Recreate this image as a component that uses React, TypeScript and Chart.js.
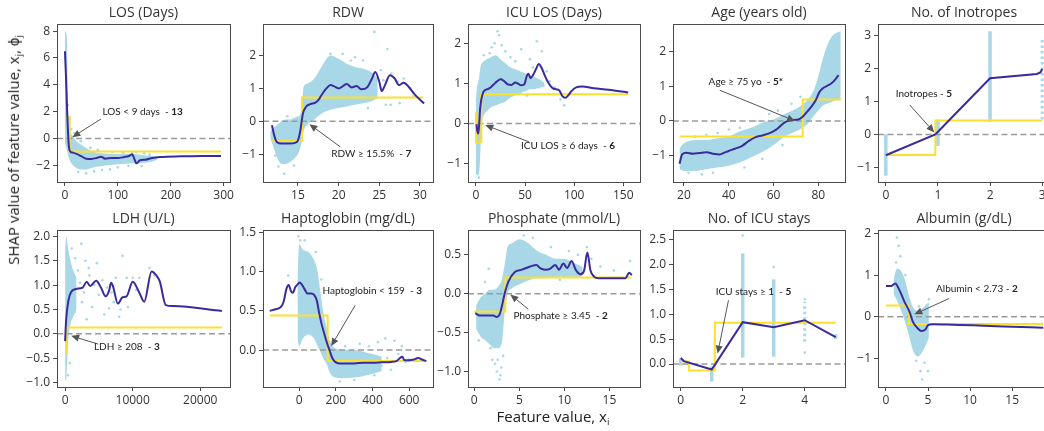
import React, { useEffect, useRef } from 'react';
import { Chart, registerables } from 'chart.js';

Chart.register(...registerables);

type Pt = [number, number];
type Col = [number, number, number];

// ---------------- LOS (Days) ----------------
const losCurve: Pt[] = [[0, 6.5], [2, 4.6], [4, 2.2], [6, 0.3], [8, -0.75], [11, -1.0], [15, -1.05], [22, -1.15], [30, -1.3], [40, -1.5], [50, -1.52], [60, -1.45], [68, -1.35], [76, -1.5], [88, -1.45], [100, -1.45], [112, -1.38], [120, -1.32], [127, -1.18], [131, -1.5], [135, -1.85], [142, -1.62], [152, -1.58], [165, -1.45], [180, -1.38], [220, -1.33], [260, -1.3], [295, -1.3]];
const losStep: Pt[] = [[0, 1.6], [9, 1.6], [9, -0.97], [295, -0.97]];
const losBandX = [0, 2, 4, 5, 7, 10, 15, 22, 30, 40, 55, 70, 90, 110, 130, 150, 170, 175];
const losBandHi = [8.0, 7.9, 7.0, 3.5, 1.2, 0.5, 0.15, -0.2, -0.45, -0.7, -1.0, -1.1, -1.15, -1.15, -1.15, -1.25, -1.35, -1.45];
const losBandLo = [-0.3, -0.6, -0.9, -1.1, -1.4, -1.7, -2.0, -2.2, -2.3, -2.3, -2.15, -2.05, -1.95, -1.9, -1.85, -1.8, -1.65, -1.55];
const losDots: Pt[] = [[40, -2.6], [55, -2.45], [85, -2.3], [70, -2.35], [100, -2.15], [128, -1.05], [145, -2.05], [172, -1.4], [160, -1.2], [25, -2.5], [120, -2.05], [110, -1.1], [8, 1.5], [6, 2.5], [12, 0.7], [18, 0.4], [30, -0.2], [48, -0.7], [62, -0.85], [90, -1.0], [135, -1.0], [150, -1.1]];

// ---------------- RDW ----------------
const rdwCurve: Pt[] = [[11.8, -0.12], [12.1, -0.45], [12.4, -0.63], [13, -0.68], [14, -0.68], [14.7, -0.65], [15, -0.58], [15.3, -0.27], [15.6, 0.23], [16, 0.44], [16.5, 0.52], [17.1, 0.56], [17.5, 0.64], [17.9, 0.8], [18.5, 1.0], [19, 1.1], [19.4, 1.07], [20, 1.0], [21, 1.13], [21.6, 1.03], [22.2, 1.07], [22.8, 0.97], [23.5, 1.03], [24.1, 1.3], [24.5, 1.5], [25, 1.2], [25.3, 0.92], [25.7, 1.1], [26.3, 1.4], [26.9, 1.3], [27.4, 1.1], [28, 1.17], [28.6, 1.05], [29.4, 0.8], [30.5, 0.54]];
const rdwStep: Pt[] = [[11.8, -0.6], [15.5, -0.6], [15.5, 0.72], [30.4, 0.72]];
const rdwBandX = [11.6, 12, 12.5, 13, 13.5, 14, 14.5, 15, 15.4, 15.7, 16.2, 17, 18, 19, 20, 21, 22, 23, 24, 24.8];
const rdwBandHi = [-0.3, -0.2, -0.1, 0.0, 0.05, 0.05, 0.1, 0.15, 0.3, 1.05, 1.15, 1.3, 1.7, 2.0, 1.9, 1.75, 1.65, 1.6, 1.5, 1.3];
const rdwBandLo = [-0.5, -0.8, -1.15, -1.3, -1.3, -1.25, -1.15, -1.0, -0.7, -0.3, -0.1, 0.05, 0.25, 0.35, 0.4, 0.45, 0.5, 0.55, 0.6, 0.7];
const rdwDots: Pt[] = [[24.4, 2.72], [26, 2.2], [20.5, 2.05], [22, 1.95], [23, 1.85], [25.2, 1.55], [26.5, 1.45], [27.3, 1.2], [28, 1.3], [28.8, 1.0], [25.8, 0.5], [26.4, 0.5], [27.5, 0.55], [29.2, 0.75], [13.3, -1.6], [12.6, -1.38], [14.5, -1.35], [23.6, 0.4], [24.6, 0.9], [25.5, 1.25], [19, 2.05], [21.5, 1.85], [12.2, -1.05], [13.7, 0.15]];

// ---------------- ICU LOS (Days) ----------------
const icuCurve: Pt[] = [[0.5, -0.02], [1.5, -0.2], [2.3, -0.25], [3.2, -0.05], [4.2, 0.35], [5.5, 0.6], [7.5, 0.78], [10, 0.84], [14, 0.88], [18, 0.97], [21.5, 1.05], [25, 1.1], [28, 1.07], [32, 0.98], [36, 0.96], [40, 1.02], [43, 0.99], [46, 0.95], [49, 0.97], [52, 1.2], [53.5, 1.24], [55.5, 1.13], [58, 1.2], [61, 1.35], [64, 1.48], [66.5, 1.4], [70, 1.2], [74, 1.0], [78, 0.88], [82, 0.85], [85, 0.82], [88, 0.68], [91, 0.64], [94, 0.7], [97, 0.8], [102, 0.9], [108, 0.92], [120, 0.88], [135, 0.84], [155, 0.77]];
const icuStep: Pt[] = [[0, 0.28], [0, -0.47], [5.5, -0.47], [5.5, 0.73], [155, 0.73]];
const icuBandX = [0, 1, 2, 3, 4, 5, 6, 8, 11, 15, 20, 25, 30, 35, 40, 45, 50, 55, 60, 65, 70];
const icuBandHi = [0.6, 0.9, 1.0, 1.1, 1.3, 1.45, 1.5, 1.55, 1.6, 1.65, 1.7, 1.6, 1.5, 1.4, 1.35, 1.3, 1.25, 1.2, 1.15, 1.1, 1.0];
const icuBandLo = [-1.25, -1.3, -1.3, -1.25, -1.0, -0.4, 0.0, 0.2, 0.3, 0.4, 0.45, 0.5, 0.55, 0.65, 0.7, 0.75, 0.8, 0.85, 0.85, 0.9, 0.9];
const icuDots: Pt[] = [[22, 2.3], [23.5, 2.2], [19, 2.0], [16, 1.9], [26, 1.95], [62, 2.05], [67, 1.8], [46, 1.85], [55, 1.6], [72, 1.3], [75, 1.05], [80, 0.9], [86, 0.6], [90, 0.45], [30, 1.8], [35, 1.65], [58, 1.4], [14, 1.75], [40, 1.55], [3, -1.35], [64, 0.9], [52, 0.7], [8, 1.7]];

// ---------------- Age (years old) ----------------
const ageCurve: Pt[] = [[18, -1.24], [19.2, -0.97], [21, -0.92], [24, -0.95], [27, -0.93], [30, -0.91], [33, -0.95], [36, -0.97], [38, -0.92], [40, -0.87], [43, -0.8], [46, -0.72], [49, -0.58], [52, -0.47], [55, -0.42], [58, -0.36], [61, -0.26], [63, -0.15], [65, -0.04], [67, 0.01], [69, 0.03], [71, 0.04], [73, 0.12], [75, 0.27], [77, 0.42], [79, 0.62], [80.5, 0.84], [82, 0.95], [84, 1.02], [86, 1.1], [87.5, 1.2], [89, 1.33]];
const ageStep: Pt[] = [[18, -0.45], [73, -0.45], [73, 0.62], [90, 0.62]];
const ageBandX = [18, 20, 25, 30, 35, 40, 45, 50, 55, 60, 65, 70, 75, 78, 80, 82, 84, 86, 88, 90];
const ageBandHi = [-0.8, -0.65, -0.55, -0.55, -0.5, -0.45, -0.3, -0.2, -0.05, 0.05, 0.2, 0.35, 0.6, 0.9, 1.3, 1.8, 2.2, 2.45, 2.55, 2.6];
const ageBandLo = [-1.4, -1.45, -1.45, -1.4, -1.35, -1.3, -1.2, -1.05, -0.9, -0.7, -0.45, -0.3, -0.1, 0.15, 0.3, 0.45, 0.5, 0.55, 0.6, 0.6];
const ageDots: Pt[] = [[22, -1.5], [28, -1.55], [33, -1.5], [25, -0.45], [35, -0.35], [45, -0.2], [52, 0.0], [58, 0.2], [62, 0.3], [68, 0.5], [72, 0.7], [47, -1.35], [55, -1.1], [64, -0.7], [40, -0.25], [30, -0.4]];

// ---------------- No. of Inotropes ----------------
const inoCurve: Pt[] = [[0, -0.63], [0.95, 0.0], [1, 0.08], [2, 1.7], [2.9, 1.83], [2.97, 1.88], [3, 1.98]];
const inoStep: Pt[] = [[0, -0.62], [0.95, -0.62], [0.95, 0.42], [3, 0.42]];
const inoCols: Col[] = [[0, -1.25, 0.0], [1, -0.35, 0.45], [2, 0.38, 3.12]];
const inoSparseCols: Col[] = [[3, 0.45, 2.88]];
const inoDots: Pt[] = [];

// ---------------- LDH (U/L) ----------------
const ldhCurve: Pt[] = [[0, -0.15], [150, 0.28], [500, 0.69], [900, 0.86], [1600, 0.92], [2600, 0.95], [3200, 1.07], [3700, 0.98], [4600, 1.09], [5300, 0.95], [6000, 0.77], [6500, 0.88], [6800, 1.05], [7100, 0.97], [7800, 0.62], [8500, 0.75], [9100, 0.77], [10000, 1.07], [11000, 0.84], [11700, 0.66], [12800, 1.28], [13500, 1.2], [14000, 1.08], [14900, 0.59], [16000, 0.57], [23200, 0.47]];
const ldhStep: Pt[] = [[0, -0.4], [208, -0.4], [208, 0.13], [23200, 0.13]];
const ldhBandX = [0, 150, 300, 500, 800, 1200, 1700];
const ldhBandHi = [1.7, 2.0, 1.9, 1.7, 1.5, 1.3, 1.15];
const ldhBandLo = [-0.95, -0.95, -0.6, -0.1, 0.2, 0.35, 0.5];
const ldhDots: Pt[] = [[2400, 1.85], [1500, 1.55], [1900, 1.3], [3000, 1.5], [4700, 1.45], [3600, 1.2], [5500, 1.1], [6200, 0.95], [7200, 0.65], [8500, 1.6], [9100, 1.15], [8200, 0.5], [10500, 0.9], [12500, 1.35], [10000, 1.15], [4000, 0.55], [6500, 0.52], [8000, 0.35], [2500, 0.65], [5000, 0.8], [7500, 1.15], [9300, 0.55], [11000, 1.15], [13200, 1.2], [3200, 0.3], [1400, 0.45], [2200, 1.05], [2800, 0.85], [4300, 1.0], [5800, 0.4], [6900, 0.85], [3500, 1.35], [1000, 1.75], [700, -0.6], [400, -0.85]];

// ---------------- Haptoglobin (mg/dL) ----------------
const hapCurve: Pt[] = [[-161, 0.5], [-131, 0.52], [-100, 0.55], [-85, 0.62], [-70, 0.78], [-58, 0.83], [-45, 0.75], [-35, 0.73], [-22, 0.8], [-8, 0.84], [2, 0.86], [15, 0.83], [28, 0.78], [45, 0.72], [65, 0.72], [82, 0.7], [96, 0.63], [108, 0.48], [120, 0.35], [135, 0.22], [150, 0.1], [165, 0.0], [180, -0.1], [196, -0.15], [220, -0.17], [260, -0.17], [300, -0.17], [350, -0.16], [400, -0.16], [450, -0.155], [500, -0.15], [530, -0.14], [550, -0.1], [562, -0.085], [575, -0.13], [600, -0.13], [625, -0.12], [650, -0.1], [670, -0.12], [694, -0.14]];
const hapStep: Pt[] = [[-160, 0.44], [155, 0.44], [155, -0.14], [690, -0.14]];
const hapBandX = [-10, 0, 20, 50, 80, 100, 115, 130, 150, 170, 200, 250, 300, 350, 400, 450];
const hapBandHi = [0.9, 1.35, 1.28, 1.25, 1.15, 1.0, 0.75, 0.5, 0.28, 0.1, 0.02, 0.0, 0.0, -0.02, -0.05, -0.08];
const hapBandLo = [0.15, 0.05, 0.15, 0.2, 0.15, 0.05, -0.02, -0.1, -0.18, -0.3, -0.35, -0.36, -0.35, -0.33, -0.3, -0.27];
const hapDots: Pt[] = [[-60, 0.95], [-5, 1.45], [5, 1.4], [470, 0.15], [520, 0.12], [430, 0.1], [560, 0.05], [480, -0.1], [540, -0.05], [600, -0.12], [380, 0.05], [330, 0.08], [250, 0.05], [300, -0.38], [220, -0.4], [500, -0.25], [450, -0.2], [580, -0.15], [640, -0.1], [410, -0.32], [120, 0.9], [90, 1.25], [30, 1.4]];

// ---------------- Phosphate (mmol/L) ----------------
const phoCurve: Pt[] = [[0.1, -0.25], [0.6, -0.28], [1.4, -0.28], [2.1, -0.28], [2.5, -0.3], [2.8, -0.27], [3.06, -0.16], [3.43, 0.03], [3.8, 0.16], [4.5, 0.28], [5.3, 0.31], [6.2, 0.35], [6.9, 0.37], [7.3, 0.33], [7.9, 0.31], [8.4, 0.32], [9, 0.37], [9.4, 0.31], [9.9, 0.39], [10.3, 0.33], [10.8, 0.42], [11.3, 0.3], [11.8, 0.25], [12.2, 0.3], [12.55, 0.53], [12.9, 0.3], [13.3, 0.22], [13.8, 0.2], [15, 0.2], [16.8, 0.2], [17.2, 0.27], [17.5, 0.24]];
const phoStep: Pt[] = [[0, -0.23], [3.45, -0.23], [3.45, 0.21], [17.4, 0.21]];
const phoBandX = [0.2, 0.7, 1.2, 1.7, 2.2, 2.7, 3.1, 3.4, 3.7, 4.2, 5, 6, 7, 8, 9, 10, 11, 12];
const phoBandHi = [-0.15, -0.05, 0.0, 0.05, 0.05, 0.1, 0.2, 0.4, 0.6, 0.65, 0.7, 0.65, 0.55, 0.5, 0.45, 0.45, 0.4, 0.35];
const phoBandLo = [-0.45, -0.55, -0.6, -0.65, -0.7, -0.7, -0.6, -0.2, 0.0, 0.07, 0.12, 0.17, 0.2, 0.2, 0.22, 0.22, 0.22, 0.22];
const phoDots: Pt[] = [[1.6, 0.32], [2.3, -0.9], [2.5, -1.0], [2.8, -1.1], [2.6, -0.85], [3.0, -0.95], [2.0, -0.85], [1.8, -0.7], [2.9, -1.05], [3.2, -0.8], [13, 0.45], [14, 0.35], [17.3, 0.42], [12.5, 0.6], [10.5, 0.55], [8.5, 0.6], [1.2, 0.15], [0.5, -0.6], [9.5, 0.18], [11.5, 0.5], [15.5, 0.3], [6.5, 0.72], [5.5, 0.75]];

// ---------------- No. of ICU stays ----------------
const staysCurve: Pt[] = [[0, 0.12], [0.1, 0.06], [1, -0.11], [2, 0.84], [3, 0.74], [4, 0.88], [5, 0.54]];
const staysStep: Pt[] = [[0, 0.05], [0.27, 0.05], [0.27, -0.13], [1.1, -0.13], [1.1, 0.83], [5, 0.83]];
const staysCols: Col[] = [[0, -0.03, 0.12], [1, -0.35, -0.05], [2, 0.13, 2.22], [3, 0.15, 1.7], [5, 0.5, 0.6]];
const staysSparseCols: Col[] = [[4, 0.45, 1.25]];
const staysDots: Pt[] = [[2, 2.58], [3, 1.95], [4, 0.23], [4, 1.3]];

// ---------------- Albumin (g/dL) ----------------
const albCurve: Pt[] = [[0, 0.74], [0.6, 0.74], [1.1, 0.8], [1.6, 0.64], [2.2, 0.36], [2.8, 0.12], [3.2, -0.12], [3.8, -0.28], [4.2, -0.34], [4.7, -0.3], [5.0, -0.2], [5.6, -0.18], [8, -0.19], [10.3, -0.2], [14, -0.23], [18.7, -0.26]];
const albStep: Pt[] = [[0, 0.27], [2.73, 0.27], [2.73, -0.17], [18.7, -0.17]];
const albBandX = [0.9, 1.3, 1.8, 2.3, 2.8, 3.3, 3.8, 4.3, 4.8, 5.1];
const albBandHi = [0.9, 1.15, 1.1, 0.85, 0.45, 0.2, 0.15, 0.2, 0.3, 0.35];
const albBandLo = [0.55, 0.4, 0.15, -0.15, -0.5, -0.85, -0.95, -0.85, -0.65, -0.5];
const albDots: Pt[] = [[1.3, 1.9], [1.5, 1.7], [1.7, 1.45], [1.2, 1.3], [4.1, -1.3], [4.3, -1.5], [5.0, -1.3], [4.6, -1.1], [5.1, 0.42], [3.6, -1.05], [2.3, 1.0], [4.8, 0.05], [3.9, 0.25]];

// ---------------- styling / layout ----------------
const LB = '#a8d8e8';
const BLUE = '#3a2b9c';
const YELLOW = '#fbe02f';
const YW = 40; // y-axis width
const TT = 24; // space above plot for title
const XH = 22; // x-axis height
const RP = 24; // right padding

interface Ann { text: string; bold: string; at: Pt; tail: Pt; tip: Pt }
interface Band { x: number[]; hi: number[]; lo: number[] }
interface PanelSpec {
  title: string;
  box: [number, number, number, number];
  xr: [number, number]; yr: [number, number];
  xTicks: number[]; yTicks: number[]; yDec: number;
  curve: Pt[]; smooth: boolean; step: Pt[];
  band?: Band; dots: Pt[]; cols?: Col[]; sparseCols?: Col[];
  ann: Ann;
}

const panels: PanelSpec[] = [
  { title: 'LOS (Days)', box: [57, 24, 230, 182], xr: [-15, 312], yr: [-3.24, 8.53], xTicks: [0, 100, 200, 300], yTicks: [-2, 0, 2, 4, 6, 8], yDec: 0, curve: losCurve, smooth: true, step: losStep, band: { x: losBandX, hi: losBandHi, lo: losBandLo }, dots: losDots, ann: { text: 'LOS < 9 days  - ', bold: '13', at: [71, 2.0], tail: [68, 1.45], tip: [14, 0.1] } },
  { title: 'RDW', box: [263, 24, 433, 182], xr: [10.7, 31.6], yr: [-1.85, 2.96], xTicks: [15, 20, 25, 30], yTicks: [-1, 0, 1, 2], yDec: 0, curve: rdwCurve, smooth: true, step: rdwStep, band: { x: rdwBandX, hi: rdwBandHi, lo: rdwBandLo }, dots: rdwDots, ann: { text: 'RDW ≥ 15.5%  - ', bold: '7', at: [19.1, -0.99], tail: [20.2, -0.78], tip: [16.4, -0.09] } },
  { title: 'ICU LOS (Days)', box: [468, 24, 640, 182], xr: [-8.1, 167], yr: [-1.46, 2.48], xTicks: [0, 50, 100, 150], yTicks: [-1, 0, 1, 2], yDec: 0, curve: icuCurve, smooth: true, step: icuStep, band: { x: icuBandX, hi: icuBandHi, lo: icuBandLo }, dots: icuDots, ann: { text: 'ICU LOS ≥ 6 days  - ', bold: '6', at: [45.9, -0.56], tail: [54, -0.46], tip: [9.5, -0.04] } },
  { title: 'Age (years old)', box: [673, 24, 845, 182], xr: [15.1, 91.9], yr: [-1.77, 2.81], xTicks: [20, 40, 60, 80], yTicks: [-1, 0, 1, 2], yDec: 0, curve: ageCurve, smooth: true, step: ageStep, band: { x: ageBandX, hi: ageBandHi, lo: ageBandLo }, dots: ageDots, ann: { text: 'Age ≥ 75 yo  - ', bold: '5*', at: [31, 1.14], tail: [36, 0.89], tip: [69.6, 0.0] } },
  { title: 'No. of Inotropes', box: [878, 24, 1050, 182], xr: [-0.15, 3.15], yr: [-1.44, 3.34], xTicks: [0, 1, 2, 3], yTicks: [-1, 0, 1, 2, 3], yDec: 0, curve: inoCurve, smooth: false, step: inoStep, dots: inoDots, cols: inoCols, sparseCols: inoSparseCols, ann: { text: 'Inotropes - ', bold: '5', at: [0.19, 1.22], tail: [0.46, 0.89], tip: [0.93, 0.06] } },
  { title: 'LDH (U/L)', box: [57, 230, 230, 387], xr: [-1200, 24400], yr: [-1.09, 2.13], xTicks: [0, 10000, 20000], yTicks: [-1, -0.5, 0, 0.5, 1, 1.5, 2], yDec: 1, curve: ldhCurve, smooth: true, step: ldhStep, band: { x: ldhBandX, hi: ldhBandHi, lo: ldhBandLo }, dots: ldhDots, ann: { text: 'LDH ≥ 208  - ', bold: '3', at: [4270, -0.27], tail: [4900, -0.21], tip: [890, -0.04] } },
  { title: 'Haptoglobin (mg/dL)', box: [263, 230, 433, 387], xr: [-198, 730], yr: [-0.47, 1.53], xTicks: [0, 200, 400, 600], yTicks: [0, 0.5, 1, 1.5], yDec: 1, curve: hapCurve, smooth: true, step: hapStep, band: { x: hapBandX, hi: hapBandHi, lo: hapBandLo }, dots: hapDots, ann: { text: 'Haptoglobin < 159  - ', bold: '3', at: [127, 0.75], tail: [305, 0.57], tip: [174, 0.05] } },
  { title: 'Phosphate (mmol/L)', box: [468, 230, 640, 387], xr: [-0.7, 18.4], yr: [-1.2, 0.82], xTicks: [0, 5, 10, 15], yTicks: [-1, -0.5, 0, 0.5], yDec: 1, curve: phoCurve, smooth: true, step: phoStep, band: { x: phoBandX, hi: phoBandHi, lo: phoBandLo }, dots: phoDots, ann: { text: 'Phosphate ≥ 3.45  - ', bold: '2', at: [4.35, -0.29], tail: [6.0, -0.2], tip: [4.0, -0.01] } },
  { title: 'No. of ICU stays', box: [673, 230, 845, 387], xr: [-0.25, 5.3], yr: [-0.46, 2.69], xTicks: [0, 2, 4], yTicks: [0, 0.5, 1, 1.5, 2, 2.5], yDec: 1, curve: staysCurve, smooth: false, step: staysStep, dots: staysDots, cols: staysCols, sparseCols: staysSparseCols, ann: { text: 'ICU stays ≥ 1  - ', bold: '5', at: [1.13, 1.46], tail: [1.54, 1.28], tip: [1.19, 0.21] } },
  { title: 'Albumin (g/dL)', box: [878, 230, 1050, 387], xr: [-0.95, 19.5], yr: [-1.68, 2.08], xTicks: [0, 5, 10, 15], yTicks: [-1, 0, 1, 2], yDec: 0, curve: albCurve, smooth: true, step: albStep, band: { x: albBandX, hi: albBandHi, lo: albBandLo }, dots: albDots, ann: { text: 'Albumin < 2.73 - ', bold: '2', at: [5.95, 0.68], tail: [7.5, 0.44], tip: [3.37, 0.06] } },
];

const fmt = (v: number, dec: number) => {
  const s = Math.abs(v).toFixed(dec);
  return v < 0 ? '\u2212' + s : s;
};
const toXY = (pts: Pt[]) => pts.map(([x, y]) => ({ x, y }));

function PanelChart({ spec }: { spec: PanelSpec }) {
  const ref = useRef<HTMLCanvasElement>(null);
  const [l, t, r, b] = spec.box;
  const w = YW + (r - l) + RP;
  const h = TT + (b - t) + XH;

  useEffect(() => {
    const ds: any[] = [];
    ds.push({ data: toXY(spec.curve), borderColor: BLUE, borderWidth: 2, pointRadius: 0, tension: spec.smooth ? 0.4 : 0, cubicInterpolationMode: spec.smooth ? 'monotone' : 'default', fill: false, order: 0 });
    ds.push({ data: toXY(spec.step), borderColor: YELLOW, borderWidth: 2, pointRadius: 0, tension: 0, fill: false, order: 1 });
    ds.push({ data: [{ x: spec.xr[0], y: 0 }, { x: spec.xr[1], y: 0 }], borderColor: '#9a9a9a', borderWidth: 1.5, borderDash: [6, 3.5], pointRadius: 0, fill: false, order: 2 });
    ds.push({ data: toXY(spec.dots), showLine: false, pointRadius: 1.3, pointBackgroundColor: LB, pointBorderWidth: 0, borderColor: 'rgba(0,0,0,0)', order: 3 });
    (spec.cols || []).forEach(([x, lo, hi]) => {
      ds.push({ data: [{ x, y: lo }, { x, y: hi }], borderColor: LB, borderWidth: 3.5, borderCapStyle: 'butt', pointRadius: 0, fill: false, order: 3 });
    });
    (spec.sparseCols || []).forEach(([x, lo, hi]) => {
      ds.push({ data: [{ x, y: lo }, { x, y: hi }], borderColor: LB, borderWidth: 3, borderDash: [2.5, 3], borderCapStyle: 'butt', pointRadius: 0, fill: false, order: 3 });
    });
    if (spec.band) {
      const bd = spec.band;
      ds.push({ data: bd.x.map((x, i) => ({ x, y: bd.hi[i] })), borderColor: 'rgba(0,0,0,0)', borderWidth: 1, backgroundColor: LB, pointRadius: 0, tension: 0.3, cubicInterpolationMode: 'monotone', fill: '+1', order: 4 });
      ds.push({ data: bd.x.map((x, i) => ({ x, y: bd.lo[i] })), borderColor: 'rgba(0,0,0,0)', borderWidth: 1, pointRadius: 0, tension: 0.3, cubicInterpolationMode: 'monotone', fill: false, order: 5 });
    }

    const deco = {
      id: 'deco',
      afterDatasetsDraw(chart: any) {
        const ctx = chart.ctx as CanvasRenderingContext2D;
        const ca = chart.chartArea;
        const xs = chart.scales.x, ys = chart.scales.y;
        ctx.save();
        ctx.strokeStyle = '#4a4a4a';
        ctx.lineWidth = 1;
        ctx.strokeRect(Math.round(ca.left) + 0.5, Math.round(ca.top) + 0.5, Math.round(ca.right - ca.left), Math.round(ca.bottom - ca.top));
        ctx.fillStyle = '#333';
        ctx.font = '14px "Open Sans"';
        ctx.textAlign = 'center';
        ctx.textBaseline = 'middle';
        ctx.fillText(spec.title, (ca.left + ca.right) / 2, ca.top - 11);
        const a = spec.ann;
        const sx = xs.getPixelForValue(a.tail[0]), sy = ys.getPixelForValue(a.tail[1]);
        const tx = xs.getPixelForValue(a.tip[0]), ty = ys.getPixelForValue(a.tip[1]);
        const ang = Math.atan2(ty - sy, tx - sx);
        const L = 8, W = 3.5;
        const bx = tx - L * Math.cos(ang), by = ty - L * Math.sin(ang);
        ctx.strokeStyle = '#555';
        ctx.fillStyle = '#555';
        ctx.lineWidth = 1;
        ctx.beginPath();
        ctx.moveTo(sx, sy);
        ctx.lineTo(bx, by);
        ctx.stroke();
        ctx.beginPath();
        ctx.moveTo(tx, ty);
        ctx.lineTo(bx + W * Math.sin(ang), by - W * Math.cos(ang));
        ctx.lineTo(bx - W * Math.sin(ang), by + W * Math.cos(ang));
        ctx.closePath();
        ctx.fill();
        const px = xs.getPixelForValue(a.at[0]), py = ys.getPixelForValue(a.at[1]);
        ctx.fillStyle = '#222';
        ctx.textAlign = 'left';
        ctx.textBaseline = 'middle';
        ctx.font = '10px Lato';
        const w1 = ctx.measureText(a.text).width;
        ctx.fillText(a.text, px, py);
        ctx.font = 'bold 10px Lato';
        ctx.fillText(a.bold, px + w1, py);
        ctx.restore();
      },
    };

    const tickFont = { family: '"Open Sans"', size: 12 };
    const chart = new Chart(ref.current!, {
      type: 'line',
      data: { datasets: ds },
      options: {
        animation: false,
        responsive: false,
        maintainAspectRatio: false,
        events: [],
        layout: { padding: { top: TT, right: RP, left: 0, bottom: 0 } },
        plugins: { legend: { display: false }, tooltip: { enabled: false }, title: { display: false } },
        scales: {
          x: {
            type: 'linear', min: spec.xr[0], max: spec.xr[1],
            afterBuildTicks: (s: any) => { s.ticks = spec.xTicks.map((v) => ({ value: v })); },
            afterFit: (s: any) => { s.height = XH; },
            ticks: { font: tickFont, color: '#333', padding: 2, maxRotation: 0, autoSkip: false, callback: (v: any) => fmt(Number(v), 0) },
            grid: { display: true, drawOnChartArea: false, drawTicks: true, tickLength: 4, color: '#4a4a4a' },
            border: { display: false },
          },
          y: {
            type: 'linear', min: spec.yr[0], max: spec.yr[1],
            afterBuildTicks: (s: any) => { s.ticks = spec.yTicks.map((v) => ({ value: v })); },
            afterFit: (s: any) => { s.width = YW; },
            ticks: { font: tickFont, color: '#333', padding: 3, autoSkip: false, callback: (v: any) => fmt(Number(v), spec.yDec) },
            grid: { display: true, drawOnChartArea: false, drawTicks: true, tickLength: 4, color: '#4a4a4a' },
            border: { display: false },
          },
        },
      } as any,
      plugins: [deco],
    } as any);
    return () => chart.destroy();
  }, []);

  return (
    <canvas
      ref={ref}
      width={w}
      height={h}
      style={{ position: 'absolute', left: l - YW, top: t - TT, width: w, height: h }}
    />
  );
}

export default function App() {
  const sub: React.CSSProperties = { fontSize: '0.65em', verticalAlign: '-0.35em' };
  return (
    <div style={{ position: 'absolute', left: 0, top: 0, width: 1044, height: 431, overflow: 'hidden', background: '#fff', fontFamily: '"Open Sans", sans-serif' }}>
      {panels.map((p) => (
        <PanelChart key={p.title} spec={p} />
      ))}
      <div
        style={{ position: 'absolute', left: 15, top: 150, transform: 'translate(-50%, -50%) rotate(-90deg)', whiteSpace: 'nowrap', fontSize: 15, color: '#222', lineHeight: 1 }}
      >
        SHAP value of feature value, x<span style={sub}>j</span>, ϕ<span style={sub}>j</span>
      </div>
      <div
        style={{ position: 'absolute', left: 553, top: 418, transform: 'translate(-50%, -50%)', whiteSpace: 'nowrap', fontSize: 15, color: '#222', lineHeight: 1 }}
      >
        Feature value, x<span style={sub}>i</span>
      </div>
    </div>
  );
}
